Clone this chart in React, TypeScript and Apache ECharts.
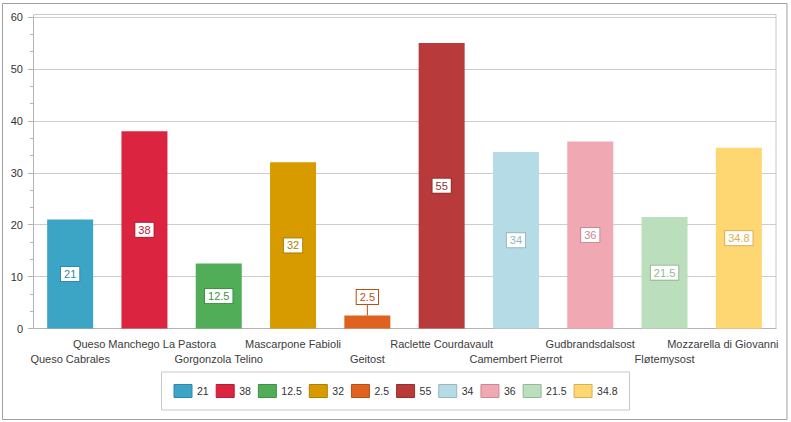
import React, { useEffect, useRef } from "react";
import * as echarts from "echarts";

const categories = [
  "Queso Cabrales",
  "Queso Manchego La Pastora",
  "Gorgonzola Telino",
  "Mascarpone Fabioli",
  "Geitost",
  "Raclette Courdavault",
  "Camembert Pierrot",
  "Gudbrandsdalsost",
  "Fløtemysost",
  "Mozzarella di Giovanni",
];
const values = [21, 38, 12.5, 32, 2.5, 55, 34, 36, 21.5, 34.8];
const legendNames = ["21", "38", "12.5", "32", "2.5", "55", "34", "36", "21.5", "34.8"];
const barColors = ["#3ca4c4", "#db2440", "#52ad58", "#d79b00", "#e0621f", "#b93a3a", "#b5dbe6", "#f0a9b3", "#bbdfbd", "#fed772"];
const darkColors = ["#2f89aa", "#b81d34", "#3f8f45", "#b07f00", "#bb4f16", "#952e2e", "#94b7c1", "#c98892", "#95b997", "#d9b04f"];
const yTicks = [0, 10, 20, 30, 40, 50, 60];
const minorSlots = Array.from({ length: 50 }, () => "");

const FONT = "'Liberation Sans', Arial, sans-serif";

export default function App() {
  const ref = useRef<HTMLDivElement>(null);
  useEffect(() => {
    if (!ref.current) return;
    const chart = echarts.init(ref.current, undefined, { renderer: "svg" });
    const series = values.map((v, i) => ({
      type: "bar",
      name: legendNames[i],
      stack: "all",
      xAxisIndex: 0,
      barWidth: 46,
      data: values.map((_, j) => (j === i ? v : null)),
      itemStyle: { color: barColors[i] },
      label: {
        show: true,
        position: "inside",
        color: darkColors[i],
        fontFamily: FONT,
        fontSize: 11,
        backgroundColor: "#ffffff",
        borderColor: darkColors[i],
        borderWidth: 1,
        padding: [2, 3, 1, 3],
      },
      labelLayout: i === 4 ? { dy: -25 } : undefined,
      labelLine: i === 4 ? { show: true, lineStyle: { color: darkColors[i], width: 1 } } : undefined,
      emphasis: { disabled: true },
    }));
    const lastIdx = categories.length - 1;
    chart.setOption({
      animation: false,
      textStyle: { fontFamily: FONT },
      grid: { left: 33, right: 15, top: 17, bottom: 93.5, outerBoundsMode: "none", containLabel: false },
      graphic: [
        {
          type: "rect",
          shape: { x: 2.5, y: 3.5, width: 784.5, height: 416 },
          style: { fill: "none", stroke: "#a0a0a0", lineWidth: 1 },
          silent: true,
        },
        {
          type: "rect",
          shape: { x: 33.5, y: 14.5, width: 742.5, height: 314 },
          style: { fill: "none", stroke: "#c8c8c8", lineWidth: 1 },
          silent: true,
          z: 0,
        },
      ],
      legend: {
        left: "center",
        top: 372,
        padding: [12, 12],
        borderColor: "#c8c8c8",
        borderWidth: 1,
        backgroundColor: "#ffffff",
        itemWidth: 18,
        itemHeight: 13,
        itemGap: 7,
        icon: "rect",
        selectedMode: false,
        textStyle: { fontFamily: FONT, fontSize: 10.5, color: "#333333" },
        data: legendNames.map((n, i) => ({
          name: n,
          itemStyle: { color: barColors[i], borderColor: darkColors[i], borderWidth: 1 },
        })),
      },
      xAxis: [
        {
          type: "category",
          data: categories,
          axisLine: { lineStyle: { color: "#b4b4b4" } },
          axisTick: { alignWithLabel: true, length: 6, lineStyle: { color: "#b4b4b4" } },
          axisLabel: {
            interval: 0,
            hideOverlap: false,
            margin: 8,
            fontFamily: FONT,
            fontSize: 11,
            lineHeight: 15,
            color: "#3c3c3c",
            formatter: (val: string, idx: number) => {
              const body = idx === lastIdx ? "{last|" + val + "}" : val;
              return idx % 2 === 0 ? "\n" + body : body;
            },
            rich: {
              last: {
                fontFamily: FONT,
                fontSize: 11,
                lineHeight: 15,
                color: "#3c3c3c",
                padding: [0, 32, 0, 0],
              },
            },
          },
          splitLine: { show: false },
        },
        {
          type: "category",
          data: minorSlots,
          position: "bottom",
          axisLine: { show: false },
          axisTick: { alignWithLabel: true, length: 3, interval: 0, lineStyle: { color: "#b4b4b4" } },
          axisLabel: { show: false },
          splitLine: { show: false },
        },
      ],
      yAxis: {
        type: "value",
        min: yTicks[0],
        max: yTicks[yTicks.length - 1],
        interval: 10,
        axisLine: { show: true, lineStyle: { color: "#b4b4b4" } },
        axisTick: { show: true, length: 5, lineStyle: { color: "#b4b4b4" } },
        minorTick: { show: true, splitNumber: 3, length: 3, lineStyle: { color: "#b4b4b4" } },
        splitLine: { lineStyle: { color: "#cccccc" } },
        axisLabel: { margin: 10, fontFamily: FONT, fontSize: 11, color: "#333333" },
      },
      series,
    });
    return () => chart.dispose();
  }, []);
  return (
    <div
      ref={ref}
      style={{ position: "fixed", left: 0, top: 0, width: 791, height: 422, background: "#ffffff" }}
    />
  );
}
